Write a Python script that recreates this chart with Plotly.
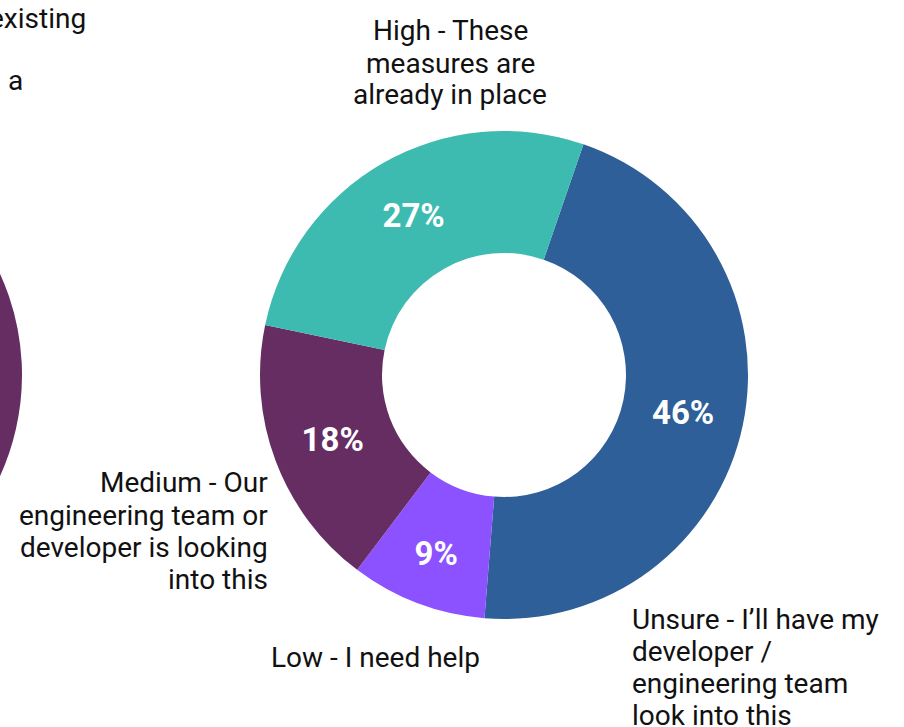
import plotly.graph_objects as go

# Right donut (main chart)
categories = [
    "Unsure - I’ll have my developer / engineering team look into this",
    "Low - I need help",
    "Medium - Our engineering team or developer is looking into this",
    "High - These measures are already in place",
]
values = [46, 9, 18, 27]
colors = ["#2E5F98", "#8C52FF", "#662D62", "#3DBBB0"]

# Left donut: only a sliver of its right edge (the Medium slice) shows in the crop
left_values = [30, 10, 35, 25]

label_lines = [
    ["Unsure - I’ll have my", "developer /", "engineering team", "look into this"],
    ["Low - I need help"],
    ["Medium - Our", "engineering team or", "developer is looking", "into this"],
    ["High - These", "measures are", "already in place"],
]
left_label_fragments = ["existing", "a"]

VIEW_W, H = 904, 727
SHIFT = 500
W = VIEW_W + SHIFT
R = 244
LINE = 32
FONT = "Roboto, sans-serif"


def dom(cx, cy):
    return dict(x=[(SHIFT + cx - R) / W, (SHIFT + cx + R) / W],
                y=[(H - cy - R) / H, (H - cy + R) / H])


def px(x):
    return (SHIFT + x) / W


def py(y):
    return 1 - y / H


fig = go.Figure()
fig.add_trace(go.Pie(
    labels=categories, values=left_values, hole=0.5, sort=False,
    direction="clockwise", rotation=-120, textinfo="none",
    marker=dict(colors=colors), domain=dom(-222, 375), showlegend=False,
    hoverinfo="skip",
))
fig.add_trace(go.Pie(
    labels=categories, values=values, hole=0.5, sort=False,
    direction="clockwise", rotation=19, textinfo="percent",
    textposition="inside", insidetextorientation="horizontal",
    textfont=dict(family=FONT, size=33, color="white", weight="bold"),
    marker=dict(colors=colors), domain=dom(504, 375), showlegend=False,
))

# (lines, x, first-line y, anchor)
placements = [
    (label_lines[3], 450, 31, "center"),
    (label_lines[2], 270, 483, "right"),
    (label_lines[1], 375, 657, "center"),
    (label_lines[0], 630, 619, "left"),
    ([left_label_fragments[0]], 88, 18, "right"),
    ([left_label_fragments[1]], 25, 80, "right"),
]
for lines, x, y0, xa in placements:
    for i, line in enumerate(lines):
        fig.add_annotation(text=line, x=px(x), y=py(y0 + i * LINE),
                           xref="paper", yref="paper", xanchor=xa,
                           yanchor="middle", showarrow=False,
                           font=dict(family=FONT, size=28, color="#111111"))

fig.update_layout(width=W, height=H, margin=dict(l=0, r=0, t=0, b=0),
                  paper_bgcolor="white", plot_bgcolor="white")

js = """
var gd = document.getElementById('{plot_id}');
document.body.style.margin = '0';
document.body.style.overflow = 'hidden';
gd.style.marginLeft = '-%dpx';
""" % SHIFT

fig.write_html("out.html", post_script=js)
